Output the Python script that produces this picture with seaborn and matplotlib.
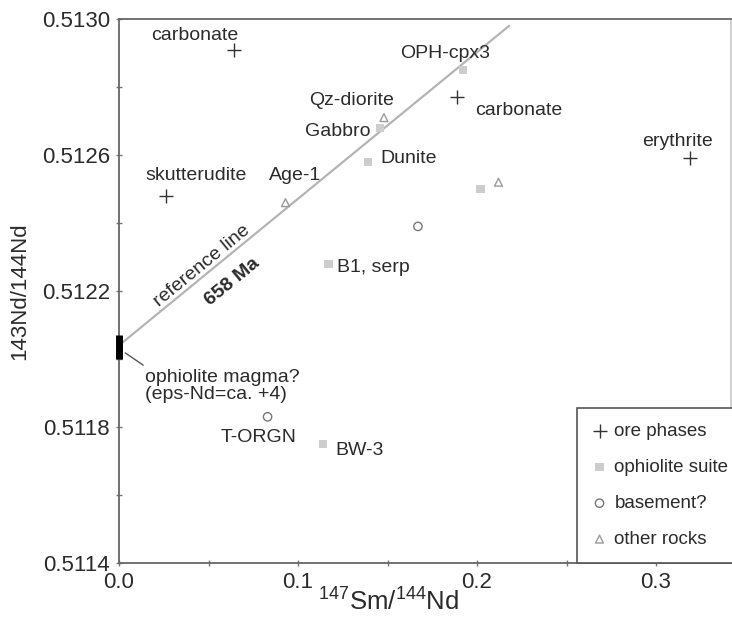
import numpy as np
import pandas as pd
import matplotlib
matplotlib.use("Agg")
import matplotlib.pyplot as plt
import seaborn as sns

# --- data -----------------------------------------------------------------
ore_x = [0.064, 0.026, 0.189, 0.319]
ore_y = [0.51291, 0.51248, 0.51277, 0.51259]

oph_x = [0.139, 0.117, 0.114, 0.192, 0.202, 0.146]
oph_y = [0.51258, 0.51228, 0.51175, 0.51285, 0.51250, 0.51268]

base_x = [0.167, 0.149, 0.083]
base_y = [0.51239, 0.51105, 0.51183]

other_x = [0.093, 0.148, 0.212]
other_y = [0.51246, 0.51271, 0.51252]

groups = ["ore phases", "ophiolite suite", "basement?", "other rocks"]

# reference isochron (658 Ma) and initial ratio of the ophiolite magma
ref_age_ma = 658
ref_intercept = 0.51204
ref_x_end = 0.218
magma_lo, magma_hi = 0.51200, 0.51207

# sample labels: (text, x, y)
labels = [
    ("carbonate", 0.018, 0.51295),
    ("skutterudite", 0.0145, 0.51254),
    ("Age-1", 0.084, 0.51254),
    ("Qz-diorite", 0.106, 0.51276),
    ("Gabbro", 0.104, 0.51267),
    ("Dunite", 0.146, 0.51259),
    ("OPH-cpx3", 0.157, 0.51290),
    ("carbonate", 0.199, 0.51273),
    ("erythrite", 0.2925, 0.51264),
    ("B1, serp", 0.122, 0.51227),
    ("T-ORGN", 0.0565, 0.51177),
    ("BW-3", 0.121, 0.51173),
]

x_ticks = [0.0, 0.1, 0.2, 0.3]
y_ticks = [0.5114, 0.5118, 0.5122, 0.5126, 0.5130]

df = pd.concat([
    pd.DataFrame({"x": ore_x, "y": ore_y, "group": groups[0]}),
    pd.DataFrame({"x": oph_x, "y": oph_y, "group": groups[1]}),
    pd.DataFrame({"x": base_x, "y": base_y, "group": groups[2]}),
    pd.DataFrame({"x": other_x, "y": other_y, "group": groups[3]}),
], ignore_index=True)

# --- style ----------------------------------------------------------------
sns.set_theme(style="ticks")
plt.rcParams["font.family"] = ["Liberation Sans", "DejaVu Sans"]
plt.rcParams["mathtext.fontset"] = "custom"
plt.rcParams["mathtext.rm"] = "Liberation Sans"
txt = "#2b2b2b"

fig = plt.figure(figsize=(7.32, 6.18), dpi=100)
ax = fig.add_axes([119 / 732, 55 / 618, (731 - 119) / 732, (563 - 19) / 618])
xmax = (731 - 119) / 1790
ax.set_xlim(0, xmax)
ax.set_ylim(0.5114, 0.5130)

# reference line
lam = 6.54e-12
slope = np.exp(lam * ref_age_ma * 1e6) - 1
xr = np.array([0.0, ref_x_end])
sns.lineplot(x=xr, y=ref_intercept + slope * xr, ax=ax, color="#b4b4b4",
             linewidth=1.6, zorder=1)

# sample groups
sub = df[df.group == groups[0]]
sns.scatterplot(data=sub, x="x", y="y", ax=ax, marker="+", s=90,
                color="#333333", linewidth=1.0, label=groups[0], zorder=3)
sub = df[df.group == groups[1]]
sns.scatterplot(data=sub, x="x", y="y", ax=ax, marker="s", s=35,
                color="#cdcdcd", edgecolor="none", label=groups[1], zorder=3)
sub = df[df.group == groups[2]]
sns.scatterplot(data=sub, x="x", y="y", ax=ax, marker="o", s=36,
                facecolor="none", edgecolor="#777777", linewidth=1.0,
                label=groups[2], zorder=3)
sub = df[df.group == groups[3]]
sns.scatterplot(data=sub, x="x", y="y", ax=ax, marker="^", s=32,
                facecolor="none", edgecolor="#9a9a9a", linewidth=1.0,
                label=groups[3], zorder=3)

# ophiolite magma bar on the y axis
ax.plot([0, 0], [magma_lo, magma_hi], color="black", linewidth=5,
        solid_capstyle="butt", clip_on=False, zorder=5)
ax.plot([0.0035, 0.0135], [0.512018, 0.511982], color="#555555", linewidth=1.0)
ax.text(0.0145, 0.51197, "ophiolite magma?\n(eps-Nd=ca. +4)", fontsize=14,
        color=txt, ha="left", va="top", linespacing=0.95)

# labels on the reference line
ang = np.degrees(np.arctan(slope * 340000 / 1790))
ax.text(0.0495, 0.512255, "reference line", fontsize=14, color=txt,
        rotation=ang, rotation_mode="anchor", ha="center", va="bottom")
ax.text(0.0605, 0.512245, f"{ref_age_ma} Ma", fontsize=14, color=txt,
        fontweight="bold", rotation=ang, rotation_mode="anchor",
        ha="center", va="top")

for t, x, y in labels:
    ax.text(x, y, t, fontsize=14, color=txt, ha="left", va="center")

# axes
ax.set_xticks(x_ticks)
ax.set_xticklabels([f"{v:.1f}" for v in x_ticks])
ax.set_yticks(y_ticks)
ax.set_yticklabels([f"{v:.4f}" for v in y_ticks])
ax.set_xticks(np.arange(0.05, xmax, 0.1), minor=True)
ax.set_yticks(np.arange(0.5116, 0.5130, 0.0004), minor=True)
ax.tick_params(which="both", direction="inout", length=5, width=1,
               color="#777777", labelsize=16, labelcolor=txt, pad=4)
ax.tick_params(which="minor", length=4)
for s in ax.spines.values():
    s.set_color("#666666")
    s.set_linewidth(1.3)
ax.spines["right"].set_color("#cccccc")

ax.set_xlabel(r"$\mathregular{^{147}Sm/^{144}Nd}$", fontsize=18.5, color=txt)
ax.xaxis.set_label_coords(0.44, -0.046)
ax.set_ylabel("143Nd/144Nd", fontsize=16, color=txt, labelpad=8)

leg = ax.legend(loc="lower left", bbox_to_anchor=(577 / 732, 55 / 618),
                bbox_transform=fig.transFigure, fontsize=13.5, frameon=True,
                fancybox=False, framealpha=1, edgecolor="#555555",
                handlelength=0.8, handletextpad=0.4, labelspacing=1.0,
                borderpad=0.8, borderaxespad=0)
leg.get_frame().set_linewidth(1.2)
for t in leg.get_texts():
    t.set_color(txt)

fig.savefig("out.png", dpi=100)
